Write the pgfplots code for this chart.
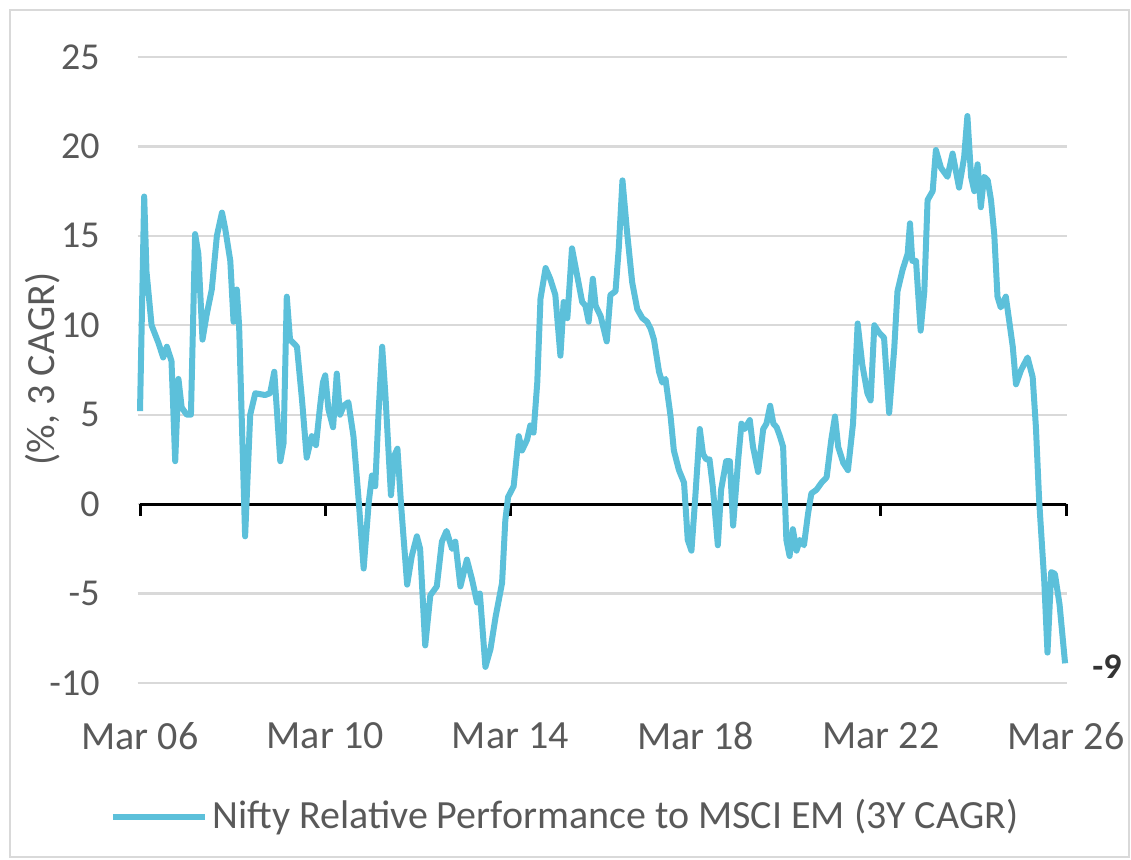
\documentclass[border=0pt]{standalone}
\usepackage{fontspec}
\setmainfont{Carlito}
\usepackage{pgfplots}
\pgfplotsset{compat=1.18}
\definecolor{linecol}{RGB}{92,192,218}
\definecolor{textgray}{RGB}{89,89,89}
\definecolor{gridgray}{RGB}{217,217,217}
\begin{document}
\begin{tikzpicture}
\useasboundingbox (-68.85pt,-88.5pt) rectangle (496.65pt,341.5pt);
\draw[gridgray, line width=1.2pt] (-63.85pt,-87pt) rectangle (495.65pt,336.5pt);
\begin{axis}[
  scale only axis, width=464.85pt, height=313pt,
  at={(0pt,0pt)}, anchor=south west,
  xmin=-0.05, xmax=20.03, ymin=-10, ymax=25,
  axis line style={draw=none},
  xtick={0,4,8,12,16,20},
  xticklabels={Mar 06,Mar 10,Mar 14,Mar 18,Mar 22,Mar 26},
  ytick={-10,-5,0,5,10,15,20,25},
  ymajorgrids,
  grid style={draw=gridgray, line width=1.2pt},
  major tick length=0pt,
  /pgf/number format/assume math mode=true,
  tick label style={text=textgray, inner sep=0pt},
  yticklabel style={anchor=east, xshift=-18.85pt, font=\fontsize{19}{21}\selectfont},
  xticklabel style={anchor=center, yshift=-26.5pt, font=\fontsize{20}{22}\selectfont},
  clip=false,
]
\draw[black, line width=1.5pt] (axis cs:0,0) -- (axis cs:20,0);
\pgfplotsinvokeforeach{0,4,8,12,16,20}{
  \draw[black, line width=1.5pt] (axis cs:#1,0) -- ++(0pt,-6pt);
}
\addplot[linecol, line width=3pt, line join=round, mark=none] coordinates {
(0.00,5.2) (0.09,17.2) (0.14,13.0) (0.25,10.0) (0.40,9.0) (0.50,8.2) (0.58,8.8)
(0.68,8.0) (0.76,2.4) (0.83,7.0) (0.90,5.4) (1.01,5.0) (1.10,5.0) (1.19,15.1)
(1.26,14.0) (1.35,9.2) (1.44,10.6) (1.55,12.0) (1.66,15.0) (1.77,16.3) (1.84,15.4)
(1.95,13.6) (2.02,10.2) (2.09,12.0) (2.14,10.0) (2.27,-1.8) (2.38,5.0) (2.49,6.2)
(2.70,6.1) (2.81,6.2) (2.90,7.4) (3.03,2.4) (3.10,3.4) (3.17,11.6) (3.24,9.2)
(3.39,8.8) (3.50,5.8) (3.60,2.6) (3.71,3.8) (3.80,3.3) (3.89,5.5) (3.95,6.8)
(4.00,7.2) (4.07,5.3) (4.17,4.3) (4.25,7.3) (4.32,5.0) (4.40,5.5) (4.50,5.7)
(4.61,3.8) (4.72,0.3) (4.83,-3.6) (4.94,0.1) (5.01,1.6) (5.08,1.0) (5.15,5.0)
(5.23,8.8) (5.30,6.1) (5.42,0.5) (5.49,2.7) (5.56,3.1) (5.64,-0.1) (5.77,-4.5)
(5.87,-2.9) (5.98,-1.8) (6.05,-2.5) (6.16,-7.9) (6.27,-5.1) (6.41,-4.6) (6.52,-2.1)
(6.62,-1.5) (6.74,-2.5) (6.81,-2.1) (6.92,-4.6) (7.06,-3.1) (7.17,-4.2) (7.28,-5.5)
(7.34,-5.0) (7.46,-9.1) (7.57,-8.1) (7.68,-6.3) (7.82,-4.4) (7.89,-0.9) (7.95,0.4)
(8.07,1.0) (8.18,3.8) (8.25,3.0) (8.36,3.6) (8.43,4.4) (8.50,4.0) (8.58,6.8)
(8.65,11.5) (8.76,13.2) (8.86,12.6) (8.97,11.7) (9.08,8.3) (9.15,11.3) (9.23,10.4)
(9.33,14.3) (9.44,12.8) (9.55,11.3) (9.62,11.1) (9.69,10.2) (9.78,12.6) (9.84,11.1)
(9.95,10.5) (10.08,9.1) (10.16,11.7) (10.27,11.9) (10.34,14.3) (10.42,18.1) (10.52,15.2)
(10.63,12.4) (10.74,10.9) (10.85,10.4) (10.95,10.2) (11.03,9.8) (11.10,9.2) (11.21,7.4)
(11.28,6.8) (11.35,7.0) (11.46,4.9) (11.53,3.0) (11.64,1.9) (11.75,1.2) (11.83,-2.0)
(11.91,-2.6) (11.98,-0.1) (12.09,4.2) (12.16,2.8) (12.23,2.5) (12.30,2.5) (12.37,1.0)
(12.48,-2.3) (12.55,0.8) (12.66,2.4) (12.74,2.4) (12.81,-1.2) (12.92,2.5) (12.99,4.5)
(13.06,4.2) (13.17,4.7) (13.24,3.2) (13.35,1.8) (13.46,4.2) (13.53,4.5) (13.61,5.5)
(13.68,4.5) (13.75,4.3) (13.82,3.8) (13.89,3.2) (13.96,-2.0) (14.03,-2.9) (14.10,-1.4)
(14.18,-2.6) (14.25,-2.0) (14.34,-2.3) (14.43,-0.5) (14.50,0.6) (14.61,0.8) (14.72,1.2)
(14.83,1.5) (14.93,3.6) (15.01,4.9) (15.08,3.2) (15.19,2.3) (15.29,1.9) (15.40,4.5)
(15.50,10.1) (15.60,7.8) (15.71,6.2) (15.78,5.8) (15.86,10.0) (15.96,9.6) (16.07,9.3)
(16.18,5.1) (16.29,8.7) (16.36,11.9) (16.47,13.1) (16.58,14.0) (16.63,15.7) (16.68,13.6)
(16.76,13.6) (16.86,9.7) (16.94,11.9) (17.01,17.0) (17.12,17.5) (17.19,19.8) (17.30,18.8)
(17.44,18.3) (17.55,19.6) (17.69,17.7) (17.80,19.4) (17.87,21.7) (17.95,18.3) (18.02,17.5)
(18.09,19.0) (18.16,16.6) (18.23,18.3) (18.31,18.1) (18.38,17.0) (18.45,15.1) (18.52,11.6)
(18.59,11.0) (18.70,11.6) (18.77,10.3) (18.85,8.8) (18.92,6.7) (19.03,7.5) (19.17,8.2)
(19.28,7.1) (19.35,4.3) (19.42,0.2) (19.53,-4.3) (19.60,-8.3) (19.68,-3.8) (19.76,-3.9)
(19.86,-5.6) (19.98,-8.9)
};
\node[anchor=west, inner sep=0pt, xshift=13pt, font=\fontsize{18}{20}\selectfont\bfseries, text={black!80}] at (axis cs:20,-9.1) {-9};
\end{axis}
\node[rotate=90, text=textgray, font=\fontsize{20}{22}\selectfont, inner sep=0pt] at (-47.35pt,157pt) {(\%, 3 CAGR)};
\draw[linecol, line width=3pt] (-12.35pt,-67pt) -- (33.65pt,-67pt);
\node[anchor=west, inner sep=0pt, text=textgray, font=\fontsize{20}{22}\selectfont] at (37.15pt,-67pt) {Nifty Relative Performance to MSCI EM (3Y CAGR)};
\end{tikzpicture}
\end{document}
